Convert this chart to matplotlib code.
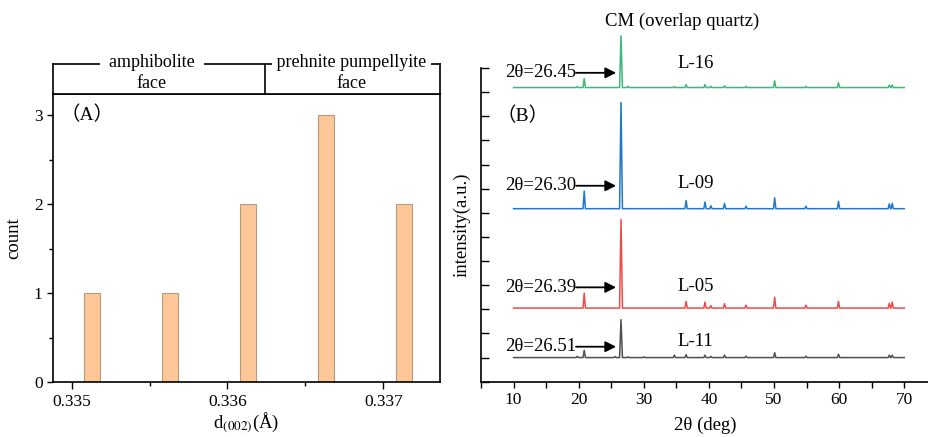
import matplotlib
matplotlib.use("Agg")
import matplotlib.pyplot as plt
from matplotlib.ticker import MultipleLocator, NullFormatter

plt.rcParams['font.family'] = ['Liberation Serif', 'Noto Sans CJK SC', 'DejaVu Sans']
plt.rcParams['mathtext.fontset'] = 'stix'

# ---------------- data: panel A (histogram of d002) ----------------
d002_centers = [0.33513, 0.33563, 0.33613, 0.33663, 0.33713]
d002_counts = [1, 1, 2, 3, 2]
face_labels = ["amphibolite\nface", "prehnite pumpellyite\nface"]
face_boundary = 0.33624

# ---------------- data: panel B (XRD patterns) ----------------
peak_pos = [19.8, 20.85, 25.6, 26.5, 27.6, 30.0, 34.7, 36.5, 39.4, 40.3,
            42.4, 45.7, 50.1, 54.9, 59.9, 67.7, 68.15]
samples = ["L-11", "L-05", "L-09", "L-16"]
colors = ["#505050", "#ee4b4b", "#1f78c8", "#3cb878"]
offsets = [1.0, 3.05, 7.17, 12.19]
heights = {
    "L-11": [0.05, 0.30, 0.04, 1.57, 0.03, 0.03, 0.10, 0.12, 0.10, 0.05,
             0.10, 0.06, 0.20, 0.06, 0.14, 0.10, 0.10],
    "L-05": [0.00, 0.62, 0.00, 3.67, 0.00, 0.00, 0.00, 0.28, 0.25, 0.10,
             0.18, 0.12, 0.45, 0.12, 0.28, 0.20, 0.25],
    "L-09": [0.00, 0.73, 0.00, 4.40, 0.00, 0.00, 0.00, 0.34, 0.28, 0.12,
             0.22, 0.10, 0.45, 0.10, 0.30, 0.20, 0.22],
    "L-16": [0.04, 0.37, 0.00, 2.14, 0.05, 0.00, 0.04, 0.12, 0.12, 0.05,
             0.07, 0.05, 0.28, 0.05, 0.20, 0.10, 0.10],
}
theta_labels = ["2θ=26.51", "2θ=26.39", "2θ=26.30", "2θ=26.45"]
label_y = [1.45, 3.91, 8.12, 12.8]
name_y = [1.65, 3.95, 8.2, 13.2]
x_start, x_end = 10, 70

fig = plt.figure(figsize=(9.29, 4.37), dpi=100)

# ---------------- panel A ----------------
xl, xr = 0.33488, 0.337364
axA = fig.add_axes([53/929, (437-382)/437, 387/929, 288/437])
axA.bar(d002_centers, d002_counts, width=0.000103, color="#fdc797",
        edgecolor="#b89a80", linewidth=0.8)
axA.set_xlim(xl, xr)
axA.set_ylim(0, 3.24)
axA.xaxis.set_minor_locator(MultipleLocator(0.0005))
axA.yaxis.set_major_locator(MultipleLocator(1))
axA.yaxis.set_minor_locator(MultipleLocator(0.5))
axA.set_xticks([0.335, 0.336, 0.337])
axA.set_xticklabels(["0.335", "0.336", "0.337"])
axA.tick_params(which='both', direction='out', width=1.0, labelsize=12.5)
axA.tick_params(which='major', length=4)
axA.tick_params(which='minor', length=3)
axA.tick_params(axis='x', which='major', length=5, pad=4)
for s in axA.spines.values():
    s.set_linewidth(1.2)
axA.set_ylabel("count", fontsize=13.5, labelpad=8)
axA.set_xlabel("d$_{(002)}$(Å)", fontsize=13.5, labelpad=0)
axA.text(0.33493, 3.0, "（A）", fontsize=14, va='center', ha='left',
         family=['Liberation Serif', 'Noto Sans CJK SC'])

# header
axH = fig.add_axes([53/929, (437-94)/437, 387/929, 30/437])
axH.set_xlim(xl, xr)
axH.set_ylim(0, 1)
axH.set_xticks([])
axH.set_yticks([])
for s in axH.spines.values():
    s.set_linewidth(1.2)
axH.axvline(face_boundary, color='k', lw=1.2)
trH = axH.get_xaxis_transform()
pads = ["  ", " "]
for cx, lab, pd in zip([0.335515, 0.336795], face_labels, pads):
    top, bottom = lab.split("\n")
    axH.text(cx, 1.05, pd + top + pd, transform=trH, ha='center', va='center', fontsize=13,
             bbox=dict(facecolor='white', edgecolor='none', pad=0.3), zorder=5, clip_on=False)
    axH.text(cx, 0.36, bottom, transform=trH, ha='center', va='center', fontsize=13)

# ---------------- panel B ----------------
axB = fig.add_axes([481/929, (437-381.7)/437, 448/929, (381.7-68)/437])
w_main = 0.22
w = 0.18
for name, col, off, th, ly, ny in zip(samples, colors, offsets, theta_labels, label_y, name_y):
    hs = heights[name]
    xs = [x_start]
    ys = [off]
    for p, h in zip(peak_pos, hs):
        if h <= 0:
            continue
        ww = w_main if h > 1 else w
        xs += [p - ww, p, p + ww]
        ys += [off, off + h, off]
    xs.append(x_end)
    ys.append(off)
    axB.plot(xs, ys, color=col, lw=1.1, clip_on=False)
    axB.text(8.7, ly, th, fontsize=13.5, ha='left', va='center')
    axB.annotate("", xy=(25.75, ly), xytext=(19.6, ly),
                 arrowprops=dict(arrowstyle='-|>', color='k', lw=1.3,
                                 mutation_scale=16, shrinkA=0, shrinkB=0))
    axB.text(37.9, ny, name, fontsize=13.5, ha='center', va='center')

axB.text(24.0, 14.95, "CM (overlap quartz)", fontsize=13.5, ha='left', va='center', clip_on=False)
axB.text(7.4, 11.0, "（B）", fontsize=14, ha='left', va='center',
         family=['Liberation Serif', 'Noto Sans CJK SC'])

axB.set_xlim(5, 73.8)
axB.set_ylim(0, 13)
axB.spines['top'].set_visible(False)
axB.spines['right'].set_visible(False)
for s in ['left', 'bottom']:
    axB.spines[s].set_linewidth(1.2)
axB.xaxis.set_minor_locator(MultipleLocator(5))
axB.yaxis.set_major_locator(MultipleLocator(1))
axB.yaxis.set_major_formatter(NullFormatter())
axB.tick_params(axis='y', which='major', direction='in', length=6, width=1.0)
axB.tick_params(axis='x', which='both', direction='out', length=4, width=1.0, labelsize=12.5)
axB.set_xticks([10, 20, 30, 40, 50, 60, 70])
axB.set_ylabel("intensity(a.u.)", fontsize=13.5, labelpad=4)
axB.set_xlabel("2θ (deg)", fontsize=13.5, labelpad=6)

fig.savefig("out.png", dpi=100)
